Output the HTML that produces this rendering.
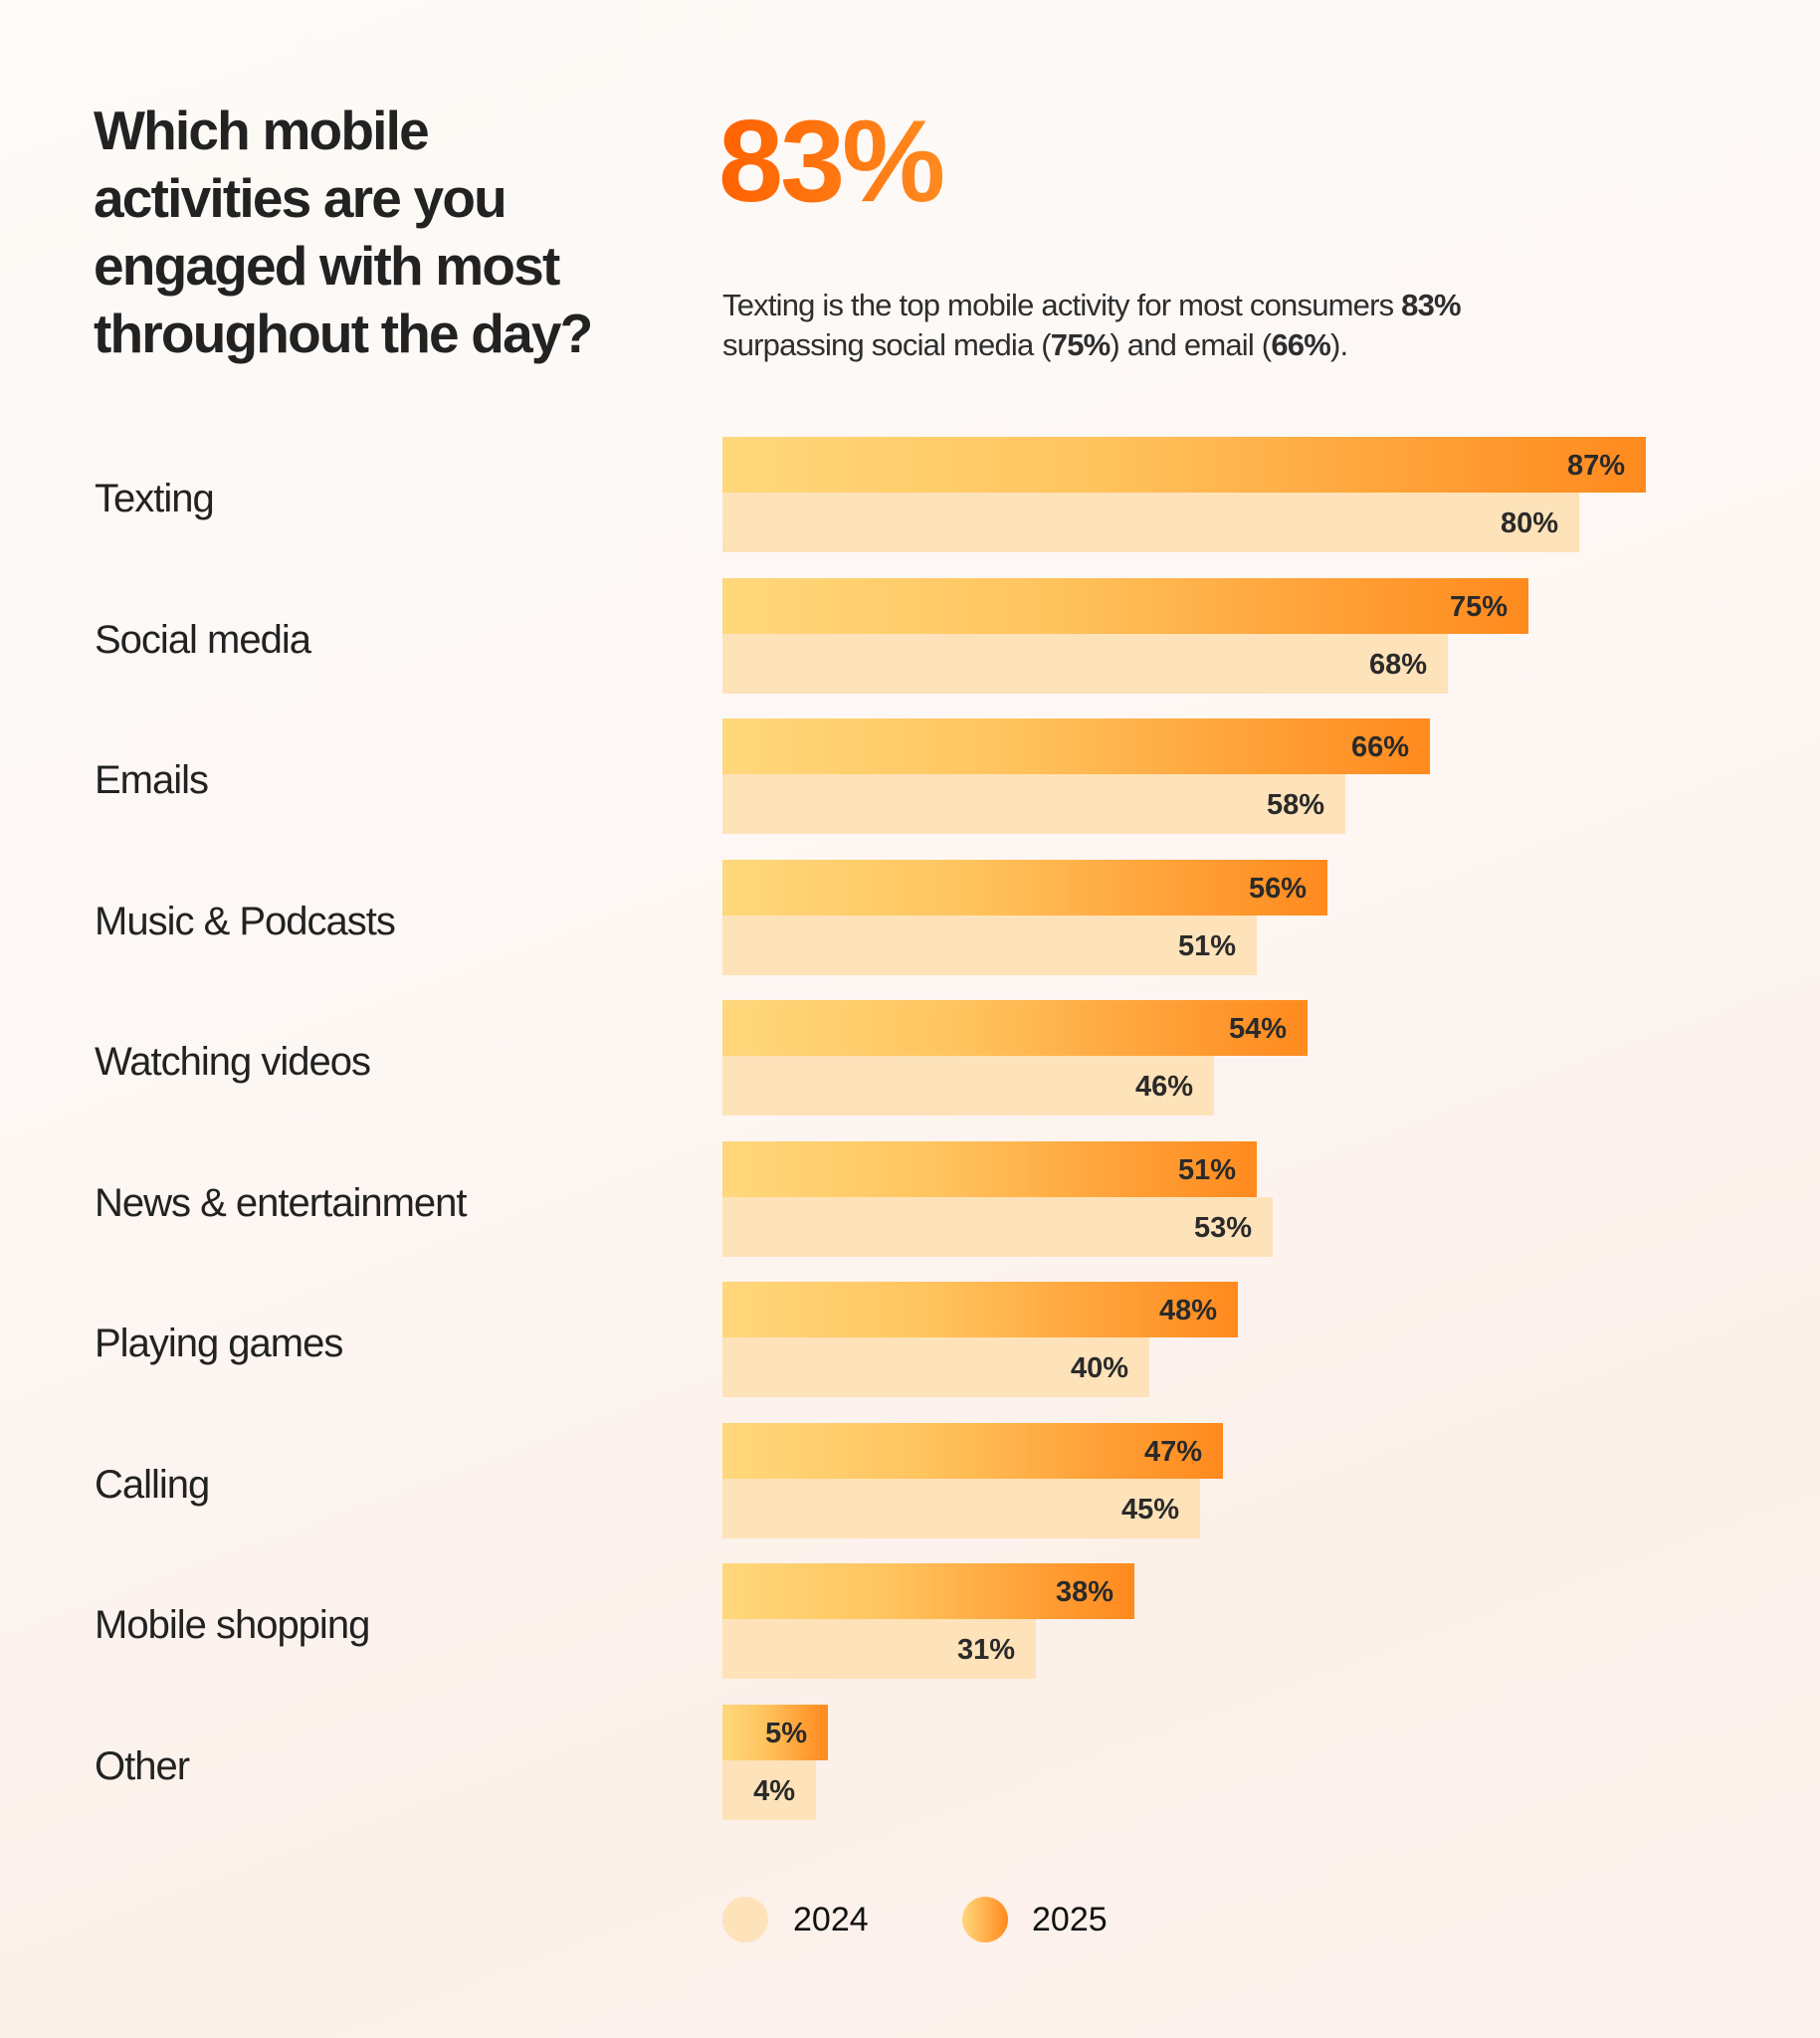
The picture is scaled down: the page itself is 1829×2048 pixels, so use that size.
<!DOCTYPE html>
<html><head><meta charset="utf-8"><style>
*{margin:0;padding:0}
body{width:1829px;height:2048px;position:relative;overflow:hidden;font-family:"Liberation Sans",sans-serif;color:#222;
background:linear-gradient(160deg,#fdfaf7 0%,#fdf8f5 40%,#fcf0ea 75%,#fdf3ee 100%);}
.a{position:absolute;white-space:nowrap}
.t{left:94px;font-weight:bold;font-size:55px;letter-spacing:-1.8px;line-height:68px;top:97px;color:#222}
.cat{left:95px;font-size:40px;letter-spacing:-1px}
.b5{position:absolute;left:726px;height:56px;background:linear-gradient(90deg,#ffd87c 0%,#ffc45e 40%,#ff9c32 80%,#ff8a1e 100%)}
.b4{position:absolute;left:726px;height:60px;background:#fee2b9}
.v{position:absolute;right:21px;font-weight:bold;font-size:29px;color:#2a2a2a;top:50%;transform:translateY(-46%)}
</style></head><body>
<div class="a t">Which mobile<br>activities are you<br>engaged with most<br>throughout the day?</div>
<div class="a" style="left:722px;top:94px;font-size:117px;font-weight:bold;letter-spacing:-3px;color:#ff6a00;background:linear-gradient(90deg,#ff6200,#ff8a20);-webkit-background-clip:text;-webkit-text-fill-color:transparent">83%</div>
<div class="a" style="left:726px;top:287px;font-size:31px;line-height:40px;letter-spacing:-0.8px;color:#2e2e2e">Texting is the top mobile activity for most consumers <b>83%</b><br>surpassing social media (<b>75%</b>) and email (<b>66%</b>).</div>
<div id="c"></div>
<script>
var d=[["Texting",1654,1587,"87%","80%"],["Social media",1536,1455,"75%","68%"],["Emails",1437,1352,"66%","58%"],["Music & Podcasts",1334,1263,"56%","51%"],["Watching videos",1314,1220,"54%","46%"],["News & entertainment",1263,1279,"51%","53%"],["Playing games",1244,1155,"48%","40%"],["Calling",1229,1206,"47%","45%"],["Mobile shopping",1140,1041,"38%","31%"],["Other",832,820,"5%","4%"]];
var h="";
d.forEach(function(r,i){var y=439+i*141.5;
h+='<div class="a cat" style="top:'+(y+40)+'px">'+r[0].replace("&","&amp;")+'</div>';
h+='<div class="b5" style="top:'+y+'px;width:'+(r[1]-726)+'px"><span class="v">'+r[3]+'</span></div>';
h+='<div class="b4" style="top:'+(y+56)+'px;width:'+(r[2]-726)+'px"><span class="v">'+r[4]+'</span></div>';});
document.getElementById("c").innerHTML=h;
</script>
<div class="a" style="left:726px;top:1906px;width:46px;height:46px;border-radius:50%;background:#fee2b9"></div>
<div class="a" style="left:797px;top:1910px;font-size:34px;color:#111">2024</div>
<div class="a" style="left:967px;top:1906px;width:46px;height:46px;border-radius:50%;background:linear-gradient(90deg,#ffd87c,#ff8a1e)"></div>
<div class="a" style="left:1037px;top:1910px;font-size:34px;color:#111">2025</div>
</body></html>
